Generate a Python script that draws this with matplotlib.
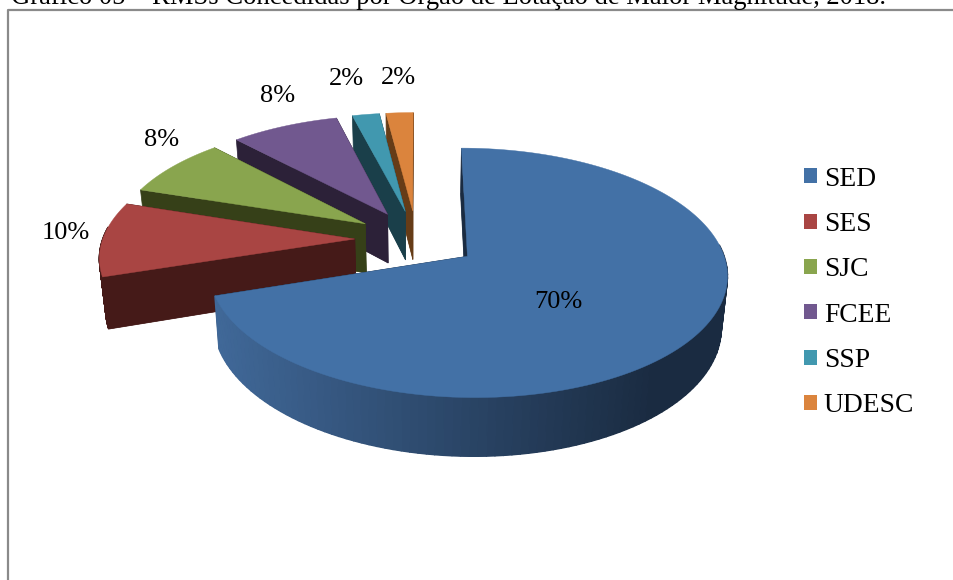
import numpy as np
import matplotlib
matplotlib.use('Agg')
from matplotlib import pyplot as plt
from matplotlib.patches import Patch

categories = ['SED', 'SES', 'SJC', 'FCEE', 'SSP', 'UDESC']
values = [70, 10, 8, 8, 2, 2]
title = 'Gráfico 05 – RMSs Concedidas por Órgão de Lotação de Maior Magnitude, 2018.'

top_colors = ['#4371a6', '#a94543', '#89a54e', '#71588f', '#4198af', '#db843d']
wall_colors = ['#1a2b41', '#451a18', '#364018', '#2c2138', '#1a3f4a', '#663c17']
label_xy = [(558, 302), (66, 233), (162, 140), (278, 96), (346, 79), (398, 78)]

# projection of the flat pie to the picture (pixels)
cx, cy = 416.5, 239
rx, ry = 252, 118
persp = 0.13
explode = 0.245
depth = 50
shrink = 0.98


def project(u, v):
    s = 1 / (1 + persp * v)
    return cx + rx * u * s, cy - ry * v * s, s


def bottom(x, y, s):
    return cx + (x - cx) * shrink, y + depth * s


def slice_outline(start, end):
    mid = np.radians((start + end) / 2)
    a = np.radians(np.linspace(start, end, 150))
    du, dv = explode * np.sin(mid), explode * np.cos(mid)
    u = np.r_[du, du + np.sin(a)]
    v = np.r_[dv, dv + np.cos(a)]
    return project(u, v) + (a,)


plt.rcParams['font.family'] = ['Liberation Serif', 'DejaVu Serif']
fig = plt.figure(figsize=(9.54, 5.8), dpi=100)
ax = fig.add_axes([0, 0, 1, 1])
ax.set_xlim(0, 954)
ax.set_ylim(580, 0)
ax.axis('off')

# frame around the chart, only top and left are in the crop
ax.plot([8.5, 8.5, 956], [582, 10, 10], color='#8a8a8a', lw=1.6, zorder=1)
ax.text(11, 4.5, title, fontsize=19.2, color='black', va='baseline', ha='left', zorder=5)

edges = np.r_[0, np.cumsum(values)] / np.sum(values) * 360

# back slices first, the big one last
for i in [5, 4, 3, 2, 1, 0]:
    x, y, s, a = slice_outline(edges[i], edges[i + 1])
    bx, by = bottom(x, y, s)
    # bottom face and cut faces
    ax.fill(bx, by, color=wall_colors[i], lw=0, zorder=2)
    ax.fill(np.r_[x[0], x[1], bx[1], bx[0]], np.r_[y[0], y[1], by[1], by[0]],
            color=wall_colors[i], lw=0.5, zorder=2)
    ax.fill(np.r_[x[0], x[-1], bx[-1], bx[0]], np.r_[y[0], y[-1], by[-1], by[0]],
            color=wall_colors[i], lw=0.5, zorder=2)
    # outer rim, only the part that faces us
    for j in range(1, len(x) - 1):
        if np.cos(a[j - 1]) > 0.1:
            continue
        col = wall_colors[i]
        if i == 0:
            t = np.clip((x[j] - 218) / 440, 0, 1)
            c0 = np.array([0x40, 0x68, 0x98]) / 255
            c1 = np.array([0x1a, 0x2b, 0x41]) / 255
            col = tuple(c0 + (c1 - c0) * t)
        ax.fill([x[j], x[j + 1], bx[j + 1], bx[j]], [y[j], y[j + 1], by[j + 1], by[j]],
                color=col, lw=1, zorder=2)
    ax.fill(x, y, color=top_colors[i], lw=0.3, zorder=2)

for val, xy in zip(values, label_xy):
    ax.text(xy[0], xy[1], '%d%%' % val, fontsize=19, ha='center', va='center', color='black', zorder=4)

handles = [Patch(facecolor=c, edgecolor='none') for c in top_colors]
ax.legend(handles, categories, loc='center left', bbox_to_anchor=(804, 292.5), bbox_transform=ax.transData,
          frameon=False, fontsize=19.8, handlelength=0.47, handleheight=0.47, handletextpad=0.25,
          labelspacing=0.74, borderpad=0, borderaxespad=0)

fig.savefig('out.png', dpi=100, facecolor='white')
